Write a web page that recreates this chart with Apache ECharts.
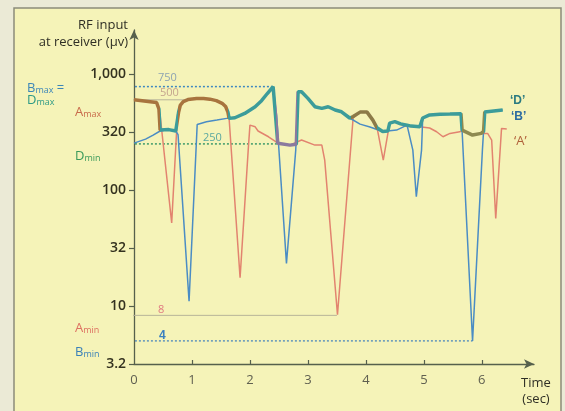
<!DOCTYPE html>
<html>
<head>
<meta charset="utf-8">
<script src="https://cdn.jsdelivr.net/npm/echarts@6/dist/echarts.min.js"></script>
<style>
html,body{margin:0;padding:0;background:#ebead6;}
#main{width:565px;height:411px;}
</style>
</head>
<body>
<div id="main"></div>
<script>
// time (sec), RF input (µV)
var seriesA = [
  [0, 600], [0.28, 578], [0.39, 568], [0.45, 444], [0.65, 52], [0.75, 444], [0.79, 541],
  [0.85, 580], [0.93, 603], [1.08, 617], [1.2, 617], [1.31, 608], [1.42, 590], [1.52, 560],
  [1.58, 525], [1.62, 470], [1.64, 418], [1.83, 17.5], [1.97, 221], [2.0, 363], [2.09, 351],
  [2.14, 323], [2.32, 288], [2.49, 253], [2.69, 244], [2.89, 270], [3.12, 244], [3.24, 244],
  [3.29, 181], [3.51, 8.4], [3.78, 418], [3.9, 470], [4.02, 470], [4.12, 401], [4.19, 350],
  [4.3, 181], [4.41, 378], [4.5, 389], [4.67, 355], [4.93, 351], [5.1, 343], [5.22, 318],
  [5.33, 288], [5.45, 308], [5.62, 318], [5.67, 329], [5.84, 298], [5.99, 308], [6.1, 308],
  [6.17, 270], [6.24, 57], [6.34, 340], [6.43, 336]
];
var seriesB = [
  [0, 254], [0.2, 275], [0.33, 298], [0.45, 323], [0.6, 332], [0.72, 323], [0.76, 300],
  [0.95, 11], [1.09, 368], [1.25, 388], [1.43, 401], [1.6, 415], [1.74, 420], [1.91, 458],
  [2.09, 523], [2.2, 590], [2.3, 680], [2.4, 780], [2.46, 444], [2.63, 23.3], [2.79, 221],
  [2.83, 703], [2.89, 703], [3.0, 617], [3.12, 523], [3.24, 506], [3.35, 523], [3.47, 490],
  [3.58, 473], [3.72, 418], [3.9, 370], [4.07, 350], [4.29, 320], [4.53, 329], [4.71, 363],
  [4.81, 221], [4.87, 87.5], [4.96, 221], [4.98, 418], [5.1, 444], [5.28, 450], [5.45, 452],
  [5.64, 456], [5.66, 323], [5.84, 5.0], [6.01, 221], [6.05, 470], [6.36, 490]
];
var seriesD = [
  [0, 600], [0.28, 578], [0.39, 568], [0.43, 500], [0.45, 330], [0.6, 332], [0.72, 323],
  [0.75, 325], [0.77, 470], [0.8, 541], [0.85, 580], [0.93, 603], [1.08, 617], [1.2, 617],
  [1.31, 608], [1.42, 590], [1.52, 560], [1.58, 525], [1.62, 470], [1.64, 415], [1.74, 420],
  [1.91, 458], [2.09, 523], [2.2, 590], [2.3, 680], [2.4, 780], [2.44, 444], [2.48, 253],
  [2.69, 244], [2.8, 248], [2.83, 703], [2.89, 703], [3.0, 617], [3.12, 523], [3.24, 506],
  [3.35, 523], [3.47, 490], [3.58, 473], [3.72, 418], [3.78, 430], [3.9, 470], [4.02, 470],
  [4.12, 401], [4.19, 345], [4.29, 320], [4.38, 323], [4.41, 378], [4.5, 389], [4.6, 372],
  [4.71, 363], [4.78, 356], [4.93, 351], [4.98, 418], [5.1, 444], [5.28, 450], [5.45, 452],
  [5.64, 456], [5.66, 329], [5.84, 298], [5.99, 308], [6.03, 320], [6.05, 470], [6.36, 490]
];

// reference levels (Bmax = Dmax, Amax, Dmin, Amin, Bmin)
var refValues = [780, 600, 250, 8.3, 5.0];
var refEnds = [2.4, 0.9, 2.5, 3.5, 5.84];
var refStart = -0.95;

var yTickValues = [3.1623, 10, 31.623, 100, 316.23, 1000];
var yTickLabels = ['3.2', '10', '32', '100', '320', '1,000'];
var xTickValues = [0, 1, 2, 3, 4, 5, 6];
var xTickLabels = ['0', '1', '2', '3', '4', '5', '6'];

var refStyles = [
  {color: '#3f88c0', type: [2, 2], width: 1.5},
  {color: '#b8b49a', type: 'solid', width: 1},
  {color: '#3e9a6a', type: [2, 2], width: 1.5},
  {color: '#b8b49a', type: 'solid', width: 1},
  {color: '#4a86bc', type: [2, 2], width: 1.3}
];

var axisColor = '#56604c';
var font = '"Open Sans", "Liberation Sans", sans-serif';

var refSeries = refValues.map(function (v, i) {
  return {
    type: 'line',
    data: [[refStart, v], [refEnds[i], v]],
    clip: false,
    symbol: 'none',
    silent: true,
    z: 1,
    lineStyle: refStyles[i]
  };
});

function txt(text, x, y, color, size, extra) {
  var s = {text: text, x: x, y: y, fill: color, font: (size || 13) + 'px ' + font,
    verticalAlign: 'middle', align: 'left'};
  if (extra) for (var k in extra) s[k] = extra[k];
  return {type: 'text', z: 100, style: s};
}
function sub(main, subs, x, y, color, extra) {
  var s = {
    text: '{m|' + main + '}{s|' + subs + '}' + (extra || ''),
    x: x, y: y, verticalAlign: 'middle', align: 'left',
    rich: {
      m: {fontSize: 13, fontFamily: font, fill: color, color: color},
      s: {fontSize: 9, fontFamily: font, fill: color, color: color, padding: [5, 0, 0, 0]},
      e: {fontSize: 13, fontFamily: font, fill: color, color: color}
    }
  };
  return {type: 'text', z: 100, style: s};
}

var option = {
  backgroundColor: '#ebead6',
  animation: false,
  grid: {left: 134, right: 31, top: 30, bottom: 47},
  xAxis: {
    type: 'value', min: 0, max: 6.9,
    axisLine: {show: true, onZero: false, symbol: ['none', 'arrow'], symbolSize: [7, 10],
      lineStyle: {color: axisColor, width: 1.3}},
    axisTick: {show: true, customValues: xTickValues.slice(1), inside: true, length: 4,
      lineStyle: {color: axisColor, width: 1.2}},
    axisLabel: {customValues: xTickValues, margin: 10, color: '#5f5f50',
      fontSize: 13, fontFamily: font,
      formatter: function (v) { return xTickLabels[Math.round(v)]; }},
    splitLine: {show: false}
  },
  yAxis: {
    type: 'log', logBase: 10, min: 3.16, max: 2400,
    axisLine: {show: true, symbol: ['none', 'arrow'], symbolSize: [7, 10],
      lineStyle: {color: axisColor, width: 1.3}},
    axisTick: {show: true, customValues: yTickValues, length: 5,
      lineStyle: {color: axisColor, width: 1.2}},
    axisLabel: {customValues: yTickValues, margin: 8, color: '#34321f',
      fontSize: 14, fontWeight: 600, fontFamily: font,
      formatter: function (v) {
        for (var i = 0; i < yTickValues.length; i++) {
          if (Math.abs(Math.log10(v) - Math.log10(yTickValues[i])) < 0.02) return yTickLabels[i];
        }
        return '';
      }},
    splitLine: {show: false}
  },
  visualMap: {
    type: 'piecewise', show: false, dimension: 0, seriesIndex: 2,
    pieces: [
      {lt: 0.45, color: '#a8743e'},
      {gte: 0.45, lt: 0.76, color: '#3c9c9a'},
      {gte: 0.76, lt: 1.63, color: '#a8743e'},
      {gte: 1.63, lt: 2.45, color: '#3c9c9a'},
      {gte: 2.45, lt: 2.82, color: '#8a7a9e'},
      {gte: 2.82, lt: 3.74, color: '#3c9c9a'},
      {gte: 3.74, lt: 4.2, color: '#8c7a48'},
      {gte: 4.2, lt: 5.66, color: '#3c9c9a'},
      {gte: 5.66, lt: 6.03, color: '#8e8a50'},
      {gte: 6.03, color: '#3c9c9a'}
    ]
  },
  series: [
    {name: 'A', type: 'line', data: seriesA, showSymbol: false, z: 2,
      lineStyle: {color: '#e2836f', width: 1.5}},
    {name: 'B', type: 'line', data: seriesB, showSymbol: false, z: 3,
      lineStyle: {color: '#4a8cc4', width: 1.5}},
    {name: 'D', type: 'line', data: seriesD, showSymbol: false, z: 4,
      lineStyle: {width: 3.5}}
  ].concat(refSeries),
  graphic: [
    {type: 'rect', z: -100, silent: true,
      shape: {x: 14, y: 8, width: 547, height: 420},
      style: {fill: '#f5f3b8', stroke: '#8c8c7a', lineWidth: 1.5}},
    txt('RF input', 128, 25, '#2f2f25', 13, {align: 'right'}),
    txt('at receiver (µv)', 128, 42, '#2f2f25', 13, {align: 'right'}),
    txt('Time', 536, 383, '#2f2f25', 13, {align: 'center'}),
    txt('(sec)', 536, 399, '#2f2f25', 13, {align: 'center'}),
    sub('B', 'max', 27, 88, '#3b86b8', '{e| =}'),
    sub('D', 'max', 27, 100, '#2e9a86'),
    sub('A', 'max', 75, 112, '#c86a4a'),
    sub('D', 'min', 75, 156, '#3a9a5a'),
    sub('A', 'min', 75, 328, '#dd7060'),
    sub('B', 'min', 75, 352, '#3a80b8'),
    txt('750', 158, 78, '#8ea4b2', 11),
    txt('500', 160, 93, '#c4a48e', 11),
    txt('250', 203, 138, '#5aa8a0', 11),
    txt('8', 158, 310, '#e07a80', 11),
    txt('4', 159, 336, '#3a80c0', 11, {fontWeight: 'bold'}),
    txt('\u2018D\u2019', 510, 101, '#2a7a80', 13, {fontWeight: 'bold'}),
    txt('\u2018B\u2019', 511, 117, '#2a6aa0', 13, {fontWeight: 'bold'}),
    txt('\u2018A\u2019', 514, 141, '#b0603a', 13)
  ]
};

var myChart = echarts.init(document.getElementById('main'));
myChart.setOption(option);
</script>
</body>
</html>
